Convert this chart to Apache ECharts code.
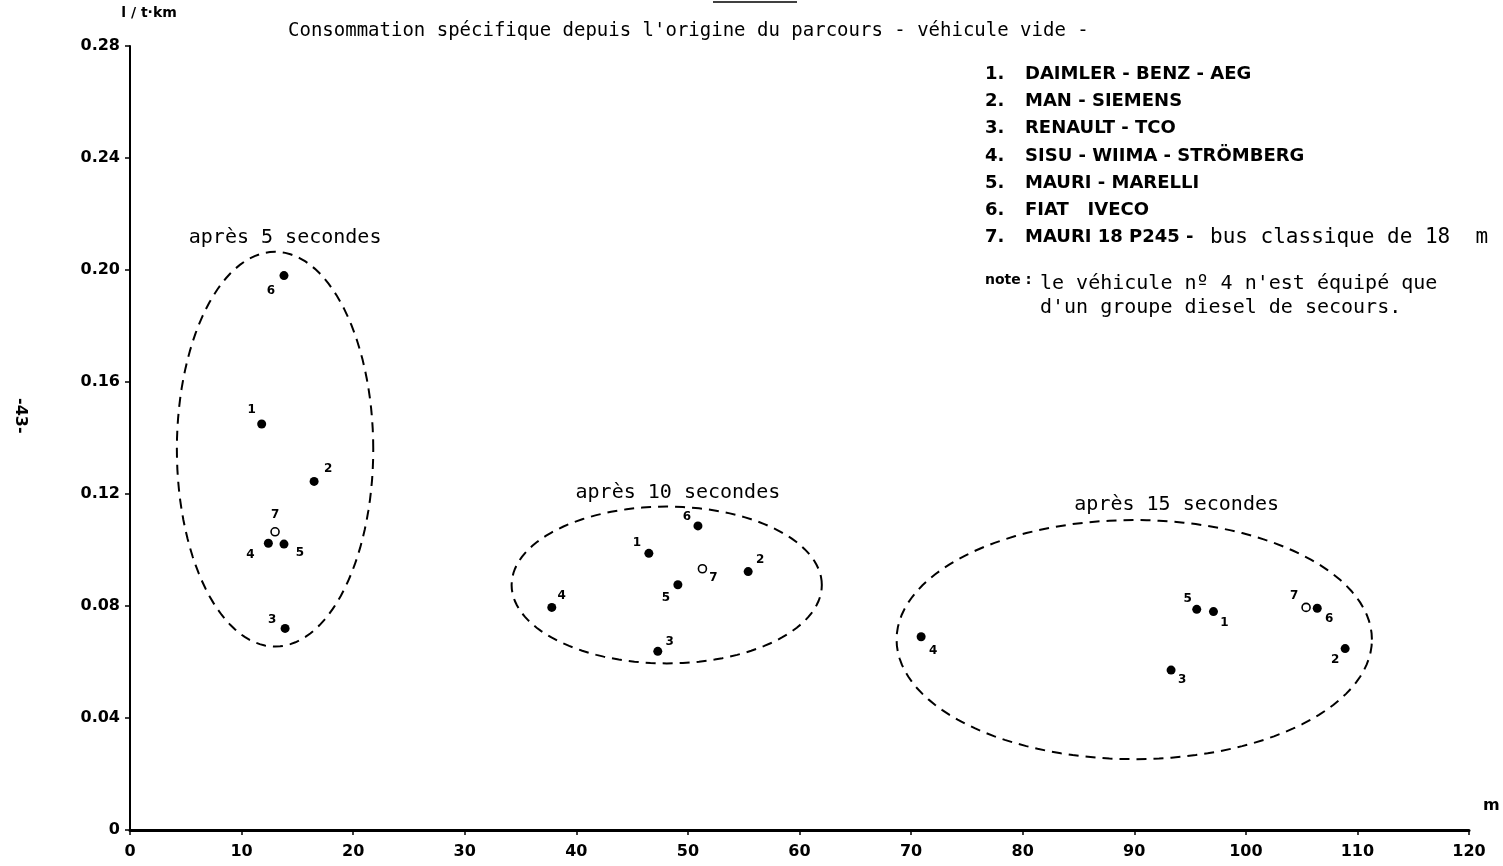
<!DOCTYPE html>
<html>
<head>
<meta charset="utf-8">
<title>Consommation spécifique</title>
<script src="https://cdn.jsdelivr.net/npm/echarts@6/dist/echarts.min.js"></script>
<style>
  html, body { margin: 0; padding: 0; background: #fff; }
  #chart { width: 1503px; height: 866px; }
</style>
</head>
<body>
<div id="chart"></div>
<script>
// vehicules (ordre 1..7)
var vehicules = ['DAIMLER - BENZ - AEG', 'MAN - SIEMENS', 'RENAULT - TCO', 'SISU - WIIMA - STRÖMBERG',
    'MAURI - MARELLI', 'FIAT   IVECO', 'MAURI 18 P245 -'];
var numeros = ['1', '2', '3', '4', '5', '6', '7'];

// distance parcourue (m) et consommation (l/t.km), par vehicule
var dist5 = [11.8, 16.5, 13.9, 12.4, 13.8, 13.8, 13.0];
var conso5 = [0.145, 0.1245, 0.072, 0.1024, 0.1021, 0.198, 0.1065];
var dist10 = [46.5, 55.4, 47.3, 37.8, 49.1, 50.9, 51.3];
var conso10 = [0.0988, 0.0923, 0.0638, 0.0795, 0.0876, 0.1086, 0.0933];
var dist15 = [97.1, 108.9, 93.3, 70.9, 95.6, 106.4, 105.4];
var conso15 = [0.078, 0.0648, 0.0571, 0.069, 0.0788, 0.0792, 0.0795];

// regroupements : centre x, centre y, demi-axe x, demi-axe y
var groupes = ['après 5 secondes', 'après 10 secondes', 'après 15 secondes'];
var ellCx = [13.0, 48.1, 90.0];
var ellCy = [0.136, 0.0875, 0.068];
var ellRx = [8.8, 13.9, 21.3];
var ellRy = [0.0705, 0.028, 0.0427];
var titreX = [13.9, 49.1, 93.8];
var titreY = [0.2114, 0.1204, 0.1161];

// decalage des numeros (px)
var off5 = [[-10, -14], [14, -13], [-13, -9], [-18, 12], [16, 9], [-13, 15], [0, -17]];
var off10 = [[-12, -10], [12, -12], [12, -9], [10, -12], [-12, 13], [-11, -9], [11, 9]];
var off15 = [[11, 11], [-10, 11], [11, 10], [12, 14], [-9, -10], [12, 11], [-12, -12]];

var mono = '"DejaVu Sans Mono", "Liberation Mono", monospace';
var sans = '"DejaVu Sans", "Liberation Sans", sans-serif';

function points(dist, conso, off) {
    var res = [];
    for (var i = 0; i < dist.length; i++) {
        var item = {
            value: [dist[i], conso[i]],
            name: numeros[i],
            label: { offset: off[i] }
        };
        if (i == 6) {
            // bus classique : cercle vide
            item.symbolSize = 8;
            item.itemStyle = { color: '#fff', borderColor: '#000', borderWidth: 1.6, opacity: 1 };
        }
        res.push(item);
    }
    return res;
}

function serieGroupe(nom, dist, conso, off) {
    return {
        name: nom,
        type: 'scatter',
        symbol: 'circle',
        symbolSize: 9,
        itemStyle: { color: '#000', opacity: 1 },
        label: {
            show: true,
            position: 'inside',
            formatter: '{b}',
            color: '#000',
            fontFamily: sans,
            fontWeight: 'bold',
            fontSize: 12
        },
        emphasis: { disabled: true },
        data: points(dist, conso, off),
        z: 5
    };
}

var ellData = [];
for (var g = 0; g < groupes.length; g++) {
    ellData.push([ellCx[g], ellCy[g], ellRx[g], ellRy[g], titreX[g], titreY[g], g]);
}

var legende = [];
for (var k = 0; k < vehicules.length; k++) {
    legende.push({
        type: 'text', left: 985, top: 65 + k * 27.3,
        style: { text: numeros[k] + '.', font: 'bold 18px ' + sans, fill: '#000' }
    });
    legende.push({
        type: 'text', left: 1025, top: 65 + k * 27.3,
        style: { text: vehicules[k], font: 'bold 18px ' + sans, fill: '#000' }
    });
}
legende.push({
    type: 'text', left: 1210, top: 227,
    style: { text: 'bus classique de 18  m', font: '21px ' + mono, fill: '#000' }
});
legende.push({
    type: 'text', left: 985, top: 273,
    style: { text: 'note :', font: 'bold 14px ' + sans, fill: '#000' }
});
legende.push({
    type: 'text', left: 1040, top: 272,
    style: { text: "le véhicule nº 4 n'est équipé que\nd'un groupe diesel de secours.", font: '20px ' + mono, fill: '#000', lineHeight: 24 }
});
legende.push({
    type: 'text', left: 12, top: 398, rotation: -Math.PI / 2, originX: 0, originY: 0,
    style: { text: '-43-', font: 'bold 16px ' + sans, fill: '#000' }
});
legende.push({
    type: 'line', shape: { x1: 713, y1: 2, x2: 797, y2: 2 },
    style: { stroke: '#000', lineWidth: 1.5 }
});

var option = {
    backgroundColor: '#fff',
    animation: false,
    title: {
        text: "Consommation spécifique depuis l'origine du parcours - véhicule vide -",
        left: 283,
        top: 17,
        textStyle: { fontFamily: mono, fontSize: 19, fontWeight: 'normal', color: '#000' }
    },
    grid: { left: 130, right: 34, top: 46, bottom: 36 },
    xAxis: {
        type: 'value',
        min: 0, max: 120, interval: 10,
        name: 'm',
        nameLocation: 'end',
        nameGap: 14,
        nameTextStyle: { fontFamily: sans, fontWeight: 'bold', fontSize: 16, color: '#000', verticalAlign: 'bottom', padding: [0, 0, 16, 0] },
        axisLine: { lineStyle: { color: '#000', width: 3 } },
        axisTick: { lineStyle: { color: '#000', width: 1.5 }, length: 5 },
        axisLabel: { color: '#000', fontFamily: sans, fontWeight: 'bold', fontSize: 16, margin: 14 },
        splitLine: { show: false }
    },
    yAxis: {
        type: 'value',
        min: 0, max: 0.28, interval: 0.04,
        name: 'l / t·km',
        nameLocation: 'end',
        nameGap: 26,
        nameTextStyle: { fontFamily: sans, fontWeight: 'bold', fontSize: 14, color: '#000', align: 'center', padding: [0, 0, 0, 38] },
        axisLine: { lineStyle: { color: '#000', width: 2 } },
        axisTick: { lineStyle: { color: '#000', width: 1.5 }, length: 5 },
        axisLabel: {
            color: '#000', fontFamily: sans, fontWeight: 'bold', fontSize: 16, margin: 10,
            formatter: function (v) { return v === 0 ? '0' : v.toFixed(2); }
        },
        splitLine: { show: false }
    },
    graphic: legende,
    series: [
        {
            name: 'groupes',
            type: 'custom',
            silent: true,
            encode: { x: 0, y: 1 },
            renderItem: function (params, api) {
                var cx = api.value(0), cy = api.value(1), rx = api.value(2), ry = api.value(3);
                var pts = [];
                for (var i = 0; i < 120; i++) {
                    var t = i / 120 * 2 * Math.PI;
                    pts.push(api.coord([cx + rx * Math.cos(t), cy + ry * Math.sin(t)]));
                }
                var pos = api.coord([api.value(4), api.value(5)]);
                return {
                    type: 'group',
                    children: [
                        {
                            type: 'polygon',
                            shape: { points: pts },
                            style: { fill: 'none', stroke: '#000', lineWidth: 2, lineDash: [10, 7] }
                        },
                        {
                            type: 'text',
                            x: pos[0], y: pos[1],
                            style: {
                                text: groupes[api.value(6)],
                                font: '20px ' + mono,
                                fill: '#000',
                                align: 'center',
                                verticalAlign: 'middle'
                            }
                        }
                    ]
                };
            },
            data: ellData,
            z: 2
        },
        serieGroupe('5 s', dist5, conso5, off5),
        serieGroupe('10 s', dist10, conso10, off10),
        serieGroupe('15 s', dist15, conso15, off15)
    ]
};

var myChart = echarts.init(document.getElementById('chart'));
myChart.setOption(option);
</script>
</body>
</html>
